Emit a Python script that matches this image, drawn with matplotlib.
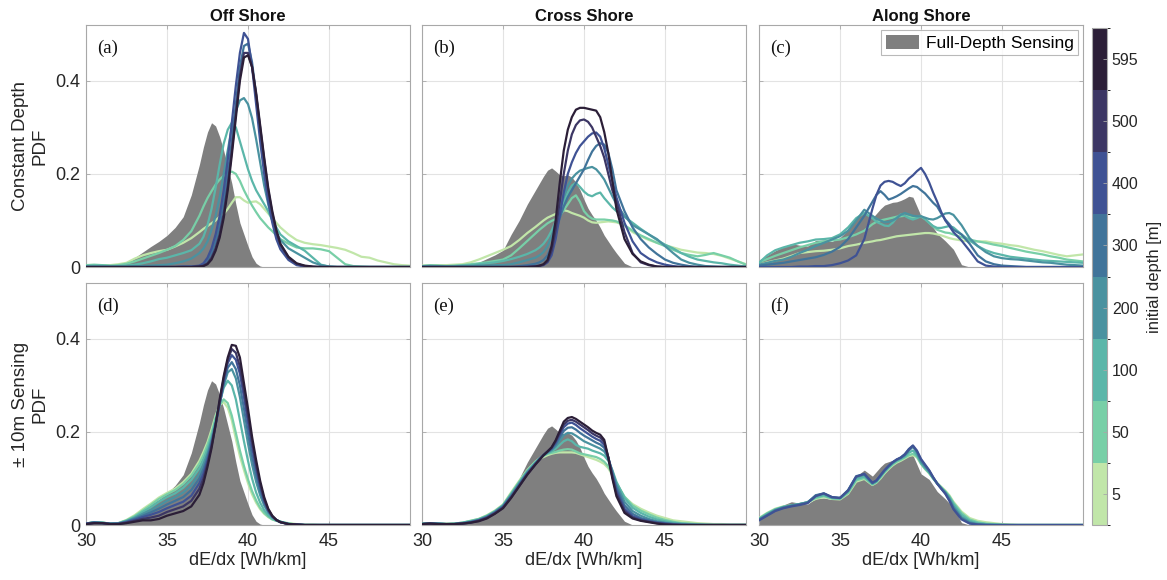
import numpy as np
import matplotlib
matplotlib.use('Agg')
import matplotlib.pyplot as plt
from matplotlib.colors import ListedColormap, BoundaryNorm
from matplotlib.patches import Patch
import matplotlib.cm as cm

plt.rcParams['font.family'] = ['Liberation Sans', 'DejaVu Sans']

# x grid (dE/dx, Wh/km)
X = [30, 30.5, 31, 31.5, 32, 32.5, 33, 33.5, 34, 34.5, 35, 35.5, 36, 36.5, 37,
     37.25, 37.5, 37.75, 38, 38.25, 38.5, 38.75, 39, 39.25, 39.5, 39.75, 40, 40.25, 40.5, 40.75, 41, 41.25, 41.5, 41.75, 42,
     42.5, 43, 43.5, 44, 44.5, 45, 45.5, 46, 46.5, 47, 47.5, 48, 48.5, 49, 49.5, 50]

DEPTHS = [5, 50, 100, 200, 300, 400, 500, 595]
TITLES = ['Off Shore', 'Cross Shore', 'Along Shore']
ROW_LABELS = ['Constant Depth\nPDF', '\u00b1 10m Sensing\nPDF']
PANEL_TAGS = ['(a)', '(b)', '(c)', '(d)', '(e)', '(f)']

# full-depth sensing PDFs (grey fill)
gray_off = [0.003, 0.005, 0.004, 0.003, 0.003, 0.008, 0.02, 0.032, 0.044, 0.055, 0.068, 0.085, 0.108, 0.155, 0.22,
            0.258, 0.29, 0.31, 0.303, 0.28, 0.25, 0.215, 0.18, 0.135, 0.095, 0.07, 0.045, 0.022, 0.008, 0.002, 0, 0, 0, 0, 0,
            0, 0, 0, 0, 0, 0, 0, 0, 0, 0, 0, 0, 0, 0, 0, 0]
gray_cross = [0.002, 0.003, 0.003, 0.002, 0.003, 0.004, 0.007, 0.01, 0.018, 0.026, 0.036, 0.07, 0.1, 0.135, 0.165,
              0.18, 0.195, 0.208, 0.213, 0.206, 0.198, 0.196, 0.198, 0.193, 0.182, 0.166, 0.145, 0.126, 0.112, 0.1, 0.085, 0.068, 0.055, 0.042, 0.03,
              0.008, 0, 0, 0, 0, 0, 0, 0, 0, 0, 0, 0, 0, 0, 0, 0]
gray_along = [0.015, 0.025, 0.035, 0.043, 0.05, 0.047, 0.045, 0.057, 0.058, 0.055, 0.063, 0.08, 0.105, 0.118, 0.105,
              0.115, 0.125, 0.133, 0.136, 0.139, 0.14, 0.143, 0.147, 0.152, 0.15, 0.13, 0.11, 0.104, 0.098, 0.085, 0.072, 0.064, 0.056, 0.047, 0.038,
              0.005, 0, 0, 0, 0, 0, 0, 0, 0, 0, 0, 0, 0, 0, 0, 0]

# (a) off shore, constant depth: depths 5..595
a_curves = [
    [0.003, 0.004, 0.004, 0.004, 0.006, 0.009, 0.018, 0.025, 0.03, 0.034, 0.037, 0.044, 0.052, 0.062, 0.075,
     0.082, 0.088, 0.094, 0.1, 0.108, 0.114, 0.125, 0.138, 0.15, 0.15, 0.143, 0.138, 0.14, 0.141, 0.135, 0.125, 0.115, 0.105, 0.095, 0.085,
     0.07, 0.058, 0.052, 0.049, 0.047, 0.044, 0.041, 0.037, 0.03, 0.022, 0.02, 0.014, 0.01, 0.006, 0.004, 0.003],
    [0.004, 0.005, 0.004, 0.003, 0.004, 0.007, 0.012, 0.018, 0.024, 0.03, 0.037, 0.045, 0.058, 0.077, 0.11,
     0.13, 0.148, 0.163, 0.177, 0.188, 0.196, 0.202, 0.205, 0.2, 0.185, 0.165, 0.148, 0.132, 0.118, 0.105, 0.095, 0.085, 0.077, 0.068, 0.06,
     0.05, 0.042, 0.04, 0.04, 0.038, 0.034, 0.02, 0.006, 0.002, 0.001, 0, 0, 0, 0, 0, 0],
    [0.002, 0.003, 0.003, 0.002, 0.002, 0.003, 0.005, 0.008, 0.012, 0.017, 0.02, 0.025, 0.03, 0.036, 0.05,
     0.065, 0.09, 0.125, 0.17, 0.22, 0.265, 0.295, 0.31, 0.3, 0.27, 0.24, 0.21, 0.185, 0.165, 0.15, 0.135, 0.12, 0.1, 0.085, 0.07,
     0.055, 0.045, 0.035, 0.02, 0.005, 0.001, 0, 0, 0, 0, 0, 0, 0, 0, 0, 0],
    [0.001, 0.001, 0.001, 0.001, 0.001, 0.001, 0.002, 0.002, 0.003, 0.004, 0.005, 0.008, 0.012, 0.018, 0.03,
     0.04, 0.055, 0.08, 0.11, 0.15, 0.2, 0.25, 0.3, 0.335, 0.358, 0.363, 0.35, 0.32, 0.275, 0.225, 0.175, 0.135, 0.1, 0.075, 0.058,
     0.04, 0.03, 0.02, 0.01, 0.004, 0.001, 0, 0, 0, 0, 0, 0, 0, 0, 0, 0],
    [0, 0, 0, 0, 0, 0, 0, 0, 0, 0, 0, 0, 0.001, 0.001, 0.002,
     0.006, 0.015, 0.03, 0.055, 0.09, 0.14, 0.2, 0.27, 0.35, 0.43, 0.475, 0.48, 0.44, 0.37, 0.29, 0.215, 0.155, 0.105, 0.07, 0.045,
     0.02, 0.006, 0.002, 0, 0, 0, 0, 0, 0, 0, 0, 0, 0, 0, 0, 0],
    [0, 0, 0, 0, 0, 0, 0, 0, 0, 0, 0, 0, 0.001, 0.001, 0.003,
     0.008, 0.02, 0.04, 0.07, 0.11, 0.165, 0.23, 0.31, 0.39, 0.46, 0.503, 0.49, 0.43, 0.35, 0.27, 0.2, 0.14, 0.095, 0.06, 0.038,
     0.015, 0.004, 0.001, 0, 0, 0, 0, 0, 0, 0, 0, 0, 0, 0, 0, 0],
    [0, 0, 0, 0, 0, 0, 0, 0, 0, 0, 0, 0, 0, 0, 0.001,
     0.003, 0.008, 0.02, 0.04, 0.07, 0.115, 0.175, 0.25, 0.33, 0.41, 0.46, 0.46, 0.43, 0.37, 0.3, 0.23, 0.165, 0.115, 0.075, 0.048,
     0.02, 0.007, 0.002, 0, 0, 0, 0, 0, 0, 0, 0, 0, 0, 0, 0, 0],
    [0, 0, 0, 0, 0, 0, 0, 0, 0, 0, 0, 0, 0, 0, 0.001,
     0.002, 0.006, 0.016, 0.035, 0.063, 0.105, 0.165, 0.24, 0.32, 0.4, 0.45, 0.455, 0.43, 0.375, 0.305, 0.235, 0.17, 0.12, 0.08, 0.05,
     0.022, 0.008, 0.003, 0.001, 0, 0, 0, 0, 0, 0, 0, 0, 0, 0, 0, 0],
]

# (b) cross shore, constant depth
b_curves = [
    [0.003, 0.004, 0.004, 0.004, 0.005, 0.006, 0.01, 0.016, 0.023, 0.03, 0.037, 0.045, 0.058, 0.073, 0.086,
     0.093, 0.1, 0.106, 0.11, 0.114, 0.118, 0.122, 0.12, 0.116, 0.113, 0.11, 0.106, 0.1, 0.096, 0.095, 0.096, 0.097, 0.098, 0.097, 0.096,
     0.09, 0.075, 0.066, 0.058, 0.052, 0.047, 0.042, 0.037, 0.034, 0.031, 0.03, 0.028, 0.024, 0.018, 0.012, 0.006],
    [0.002, 0.003, 0.003, 0.002, 0.003, 0.004, 0.006, 0.008, 0.01, 0.013, 0.016, 0.025, 0.04, 0.056, 0.072,
     0.08, 0.087, 0.094, 0.099, 0.103, 0.11, 0.122, 0.135, 0.148, 0.154, 0.14, 0.12, 0.11, 0.104, 0.102, 0.102, 0.102, 0.101, 0.1, 0.098,
     0.09, 0.078, 0.068, 0.06, 0.052, 0.045, 0.037, 0.03, 0.026, 0.023, 0.026, 0.03, 0.025, 0.02, 0.012, 0.005],
    [0.002, 0.003, 0.002, 0.002, 0.002, 0.003, 0.004, 0.006, 0.008, 0.01, 0.013, 0.017, 0.022, 0.028, 0.036,
     0.042, 0.05, 0.062, 0.078, 0.097, 0.118, 0.14, 0.16, 0.175, 0.181, 0.172, 0.162, 0.155, 0.152, 0.157, 0.16, 0.148, 0.138, 0.128, 0.12,
     0.108, 0.095, 0.082, 0.07, 0.058, 0.048, 0.04, 0.03, 0.022, 0.016, 0.013, 0.01, 0.008, 0.005, 0.003, 0.001],
    [0.001, 0.002, 0.002, 0.001, 0.001, 0.002, 0.002, 0.003, 0.003, 0.004, 0.004, 0.006, 0.01, 0.015, 0.02,
     0.025, 0.032, 0.045, 0.065, 0.095, 0.125, 0.15, 0.175, 0.19, 0.2, 0.207, 0.21, 0.213, 0.215, 0.21, 0.2, 0.188, 0.17, 0.152, 0.135,
     0.11, 0.09, 0.08, 0.07, 0.06, 0.045, 0.03, 0.016, 0.009, 0.005, 0.002, 0.001, 0, 0, 0, 0],
    [0, 0, 0, 0, 0, 0, 0, 0, 0, 0, 0, 0, 0.002, 0.004, 0.007,
     0.01, 0.015, 0.025, 0.045, 0.075, 0.105, 0.13, 0.15, 0.165, 0.18, 0.195, 0.21, 0.23, 0.248, 0.26, 0.266, 0.263, 0.245, 0.21, 0.165,
     0.12, 0.085, 0.06, 0.042, 0.028, 0.016, 0.009, 0.005, 0.002, 0, 0, 0, 0, 0, 0, 0],
    [0, 0, 0, 0, 0, 0, 0, 0, 0, 0, 0, 0, 0, 0.001, 0.002,
     0.003, 0.004, 0.01, 0.025, 0.06, 0.11, 0.16, 0.2, 0.225, 0.245, 0.26, 0.27, 0.28, 0.287, 0.289, 0.28, 0.255, 0.22, 0.185, 0.15,
     0.095, 0.055, 0.03, 0.018, 0.01, 0.005, 0.002, 0, 0, 0, 0, 0, 0, 0, 0, 0],
    [0, 0, 0, 0, 0, 0, 0, 0, 0, 0, 0, 0, 0, 0, 0.001,
     0.002, 0.005, 0.012, 0.035, 0.08, 0.14, 0.2, 0.25, 0.285, 0.305, 0.315, 0.317, 0.312, 0.3, 0.28, 0.26, 0.235, 0.2, 0.165, 0.14,
     0.075, 0.03, 0.01, 0.004, 0.001, 0, 0, 0, 0, 0, 0, 0, 0, 0, 0, 0],
    [0, 0, 0, 0, 0, 0, 0, 0, 0, 0, 0, 0, 0, 0, 0.001,
     0.003, 0.006, 0.015, 0.045, 0.1, 0.18, 0.25, 0.295, 0.322, 0.338, 0.342, 0.342, 0.34, 0.338, 0.336, 0.322, 0.29, 0.245, 0.185, 0.125,
     0.06, 0.028, 0.012, 0.005, 0.001, 0, 0, 0, 0, 0, 0, 0, 0, 0, 0, 0],
]

# (c) along shore, constant depth (depths 5..400)
c_curves = [
    [0.005, 0.01, 0.014, 0.018, 0.024, 0.03, 0.032, 0.034, 0.035, 0.037, 0.04, 0.045, 0.048, 0.052, 0.055,
     0.057, 0.058, 0.06, 0.062, 0.064, 0.066, 0.067, 0.068, 0.069, 0.07, 0.071, 0.072, 0.073, 0.073, 0.072, 0.07, 0.068, 0.065, 0.062, 0.06,
     0.057, 0.055, 0.055, 0.055, 0.052, 0.05, 0.047, 0.045, 0.041, 0.037, 0.034, 0.03, 0.026, 0.023, 0.025, 0.027],
    [0.01, 0.017, 0.024, 0.03, 0.036, 0.042, 0.047, 0.052, 0.055, 0.057, 0.059, 0.064, 0.07, 0.078, 0.092,
     0.097, 0.1, 0.102, 0.104, 0.106, 0.108, 0.109, 0.11, 0.108, 0.106, 0.107, 0.109, 0.103, 0.095, 0.087, 0.08, 0.077, 0.074, 0.073, 0.07,
     0.064, 0.059, 0.055, 0.052, 0.048, 0.045, 0.041, 0.037, 0.033, 0.03, 0.027, 0.023, 0.02, 0.016, 0.014, 0.012],
    [0.009, 0.025, 0.036, 0.042, 0.047, 0.052, 0.055, 0.059, 0.06, 0.062, 0.07, 0.085, 0.105, 0.116, 0.105,
     0.097, 0.093, 0.089, 0.088, 0.095, 0.106, 0.113, 0.11, 0.105, 0.102, 0.105, 0.109, 0.103, 0.095, 0.088, 0.084, 0.084, 0.086, 0.088, 0.085,
     0.07, 0.057, 0.045, 0.036, 0.03, 0.026, 0.022, 0.02, 0.018, 0.016, 0.014, 0.013, 0.012, 0.011, 0.01, 0.009],
    [0.005, 0.009, 0.013, 0.016, 0.022, 0.03, 0.037, 0.045, 0.052, 0.059, 0.066, 0.078, 0.1, 0.123, 0.11,
     0.104, 0.1, 0.096, 0.097, 0.1, 0.105, 0.112, 0.116, 0.113, 0.11, 0.109, 0.109, 0.106, 0.103, 0.102, 0.105, 0.11, 0.115, 0.116, 0.112,
     0.09, 0.062, 0.045, 0.032, 0.023, 0.019, 0.017, 0.016, 0.014, 0.012, 0.01, 0.009, 0.007, 0.005, 0.004, 0.003],
    [0.003, 0.005, 0.007, 0.009, 0.012, 0.015, 0.018, 0.021, 0.026, 0.033, 0.043, 0.06, 0.085, 0.11, 0.14,
     0.155, 0.163, 0.155, 0.145, 0.148, 0.152, 0.157, 0.163, 0.169, 0.174, 0.172, 0.165, 0.158, 0.148, 0.138, 0.13, 0.115, 0.102, 0.092, 0.08,
     0.07, 0.05, 0.025, 0.012, 0.006, 0.003, 0.002, 0.001, 0, 0, 0, 0, 0, 0, 0, 0],
    [0, 0, 0, 0, 0, 0.001, 0.001, 0.002, 0.002, 0.004, 0.008, 0.014, 0.025, 0.06, 0.125,
     0.155, 0.175, 0.183, 0.185, 0.183, 0.178, 0.174, 0.18, 0.19, 0.197, 0.206, 0.213, 0.2, 0.182, 0.16, 0.14, 0.118, 0.1, 0.088, 0.075,
     0.057, 0.035, 0.012, 0.003, 0.001, 0, 0, 0, 0, 0, 0, 0, 0, 0, 0, 0],
]

# (d) off shore, +-10 m sensing
d_curves = [
    [0.003, 0.006, 0.005, 0.003, 0.004, 0.011, 0.021, 0.034, 0.046, 0.059, 0.069, 0.078, 0.092, 0.11, 0.138,
     0.157, 0.178, 0.205, 0.235, 0.258, 0.264, 0.252, 0.225, 0.185, 0.148, 0.118, 0.09, 0.066, 0.048, 0.034, 0.024, 0.017, 0.012, 0.009, 0.007,
     0.004, 0.002, 0.001, 0.001, 0, 0, 0, 0, 0, 0, 0, 0, 0, 0, 0, 0],
    [0.003, 0.006, 0.005, 0.003, 0.004, 0.01, 0.019, 0.031, 0.043, 0.056, 0.066, 0.075, 0.088, 0.106, 0.132,
     0.15, 0.172, 0.198, 0.23, 0.258, 0.27, 0.262, 0.235, 0.198, 0.16, 0.127, 0.098, 0.073, 0.053, 0.037, 0.026, 0.018, 0.012, 0.009, 0.007,
     0.003, 0.001, 0, 0, 0, 0, 0, 0, 0, 0, 0, 0, 0, 0, 0, 0],
    [0.003, 0.006, 0.005, 0.003, 0.004, 0.009, 0.017, 0.028, 0.038, 0.05, 0.06, 0.068, 0.08, 0.097, 0.122,
     0.14, 0.163, 0.19, 0.225, 0.262, 0.295, 0.31, 0.3, 0.27, 0.225, 0.18, 0.138, 0.1, 0.07, 0.048, 0.032, 0.021, 0.014, 0.01, 0.007,
     0.003, 0.001, 0, 0, 0, 0, 0, 0, 0, 0, 0, 0, 0, 0, 0, 0],
    [0.003, 0.006, 0.005, 0.003, 0.003, 0.008, 0.015, 0.024, 0.032, 0.042, 0.052, 0.06, 0.07, 0.085, 0.11,
     0.13, 0.153, 0.183, 0.22, 0.26, 0.3, 0.328, 0.335, 0.315, 0.275, 0.225, 0.175, 0.13, 0.093, 0.064, 0.042, 0.027, 0.017, 0.011, 0.007,
     0.002, 0.001, 0, 0, 0, 0, 0, 0, 0, 0, 0, 0, 0, 0, 0, 0],
    [0.003, 0.005, 0.004, 0.003, 0.003, 0.007, 0.013, 0.02, 0.027, 0.035, 0.044, 0.052, 0.06, 0.075, 0.1,
     0.12, 0.145, 0.178, 0.217, 0.26, 0.305, 0.338, 0.35, 0.335, 0.3, 0.25, 0.197, 0.148, 0.107, 0.074, 0.048, 0.03, 0.018, 0.011, 0.006,
     0.002, 0.001, 0, 0, 0, 0, 0, 0, 0, 0, 0, 0, 0, 0, 0, 0],
    [0.003, 0.005, 0.004, 0.002, 0.003, 0.006, 0.011, 0.017, 0.022, 0.028, 0.036, 0.043, 0.05, 0.063, 0.09,
     0.11, 0.138, 0.172, 0.215, 0.262, 0.31, 0.348, 0.365, 0.355, 0.325, 0.275, 0.22, 0.168, 0.122, 0.083, 0.052, 0.031, 0.018, 0.01, 0.006,
     0.002, 0.001, 0, 0, 0, 0, 0, 0, 0, 0, 0, 0, 0, 0, 0, 0],
    [0.002, 0.004, 0.004, 0.002, 0.002, 0.005, 0.009, 0.013, 0.016, 0.02, 0.028, 0.034, 0.04, 0.052, 0.078,
     0.1, 0.132, 0.17, 0.215, 0.265, 0.315, 0.355, 0.378, 0.37, 0.34, 0.29, 0.235, 0.18, 0.13, 0.088, 0.055, 0.033, 0.019, 0.011, 0.006,
     0.002, 0.001, 0, 0, 0, 0, 0, 0, 0, 0, 0, 0, 0, 0, 0, 0],
    [0.002, 0.004, 0.004, 0.002, 0.002, 0.004, 0.007, 0.01, 0.01, 0.013, 0.02, 0.025, 0.03, 0.04, 0.065,
     0.09, 0.125, 0.165, 0.215, 0.27, 0.32, 0.36, 0.387, 0.385, 0.36, 0.305, 0.25, 0.19, 0.14, 0.095, 0.06, 0.035, 0.02, 0.011, 0.006,
     0.002, 0.001, 0, 0, 0, 0, 0, 0, 0, 0, 0, 0, 0, 0, 0, 0],
]

# (e) cross shore, +-10 m sensing
e_curves = [
    [0.003, 0.004, 0.003, 0.003, 0.003, 0.005, 0.009, 0.013, 0.021, 0.031, 0.044, 0.07, 0.095, 0.118, 0.136,
     0.142, 0.146, 0.15, 0.153, 0.155, 0.156, 0.156, 0.156, 0.156, 0.155, 0.152, 0.149, 0.146, 0.143, 0.14, 0.136, 0.131, 0.122, 0.107, 0.09,
     0.06, 0.045, 0.035, 0.027, 0.02, 0.015, 0.01, 0.008, 0.006, 0.004, 0.003, 0.002, 0.002, 0.001, 0.001, 0.001],
    [0.003, 0.004, 0.003, 0.002, 0.003, 0.005, 0.009, 0.013, 0.02, 0.03, 0.043, 0.068, 0.093, 0.117, 0.136,
     0.143, 0.149, 0.153, 0.155, 0.157, 0.16, 0.162, 0.163, 0.162, 0.158, 0.154, 0.152, 0.15, 0.148, 0.146, 0.142, 0.136, 0.126, 0.11, 0.09,
     0.061, 0.042, 0.031, 0.023, 0.016, 0.011, 0.007, 0.004, 0.003, 0.002, 0.001, 0, 0, 0, 0, 0],
    [0.003, 0.004, 0.003, 0.002, 0.003, 0.005, 0.008, 0.012, 0.019, 0.029, 0.042, 0.066, 0.091, 0.115, 0.134,
     0.142, 0.149, 0.154, 0.158, 0.164, 0.172, 0.18, 0.184, 0.18, 0.172, 0.168, 0.166, 0.164, 0.16, 0.157, 0.154, 0.149, 0.138, 0.118, 0.093,
     0.058, 0.037, 0.026, 0.018, 0.012, 0.008, 0.005, 0.003, 0.002, 0.001, 0, 0, 0, 0, 0, 0],
    [0.002, 0.003, 0.003, 0.002, 0.002, 0.004, 0.007, 0.011, 0.018, 0.028, 0.041, 0.064, 0.089, 0.113, 0.133,
     0.142, 0.15, 0.156, 0.161, 0.169, 0.181, 0.193, 0.198, 0.197, 0.192, 0.186, 0.18, 0.176, 0.172, 0.168, 0.164, 0.158, 0.143, 0.116, 0.087,
     0.05, 0.03, 0.02, 0.013, 0.008, 0.005, 0.003, 0.002, 0.001, 0, 0, 0, 0, 0, 0, 0],
    [0.002, 0.003, 0.003, 0.002, 0.002, 0.004, 0.006, 0.01, 0.017, 0.027, 0.04, 0.062, 0.087, 0.112, 0.132,
     0.142, 0.15, 0.157, 0.163, 0.173, 0.188, 0.202, 0.209, 0.21, 0.205, 0.198, 0.192, 0.187, 0.182, 0.177, 0.173, 0.166, 0.145, 0.112, 0.08,
     0.042, 0.024, 0.015, 0.01, 0.006, 0.004, 0.002, 0.001, 0, 0, 0, 0, 0, 0, 0, 0],
    [0.002, 0.003, 0.002, 0.002, 0.002, 0.003, 0.006, 0.01, 0.016, 0.026, 0.038, 0.06, 0.085, 0.11, 0.131,
     0.141, 0.15, 0.158, 0.165, 0.177, 0.194, 0.21, 0.218, 0.22, 0.215, 0.208, 0.202, 0.196, 0.19, 0.185, 0.181, 0.172, 0.145, 0.108, 0.074,
     0.035, 0.019, 0.012, 0.008, 0.005, 0.003, 0.001, 0, 0, 0, 0, 0, 0, 0, 0, 0],
    [0.002, 0.003, 0.002, 0.002, 0.002, 0.003, 0.005, 0.009, 0.015, 0.025, 0.037, 0.059, 0.084, 0.109, 0.13,
     0.14, 0.15, 0.158, 0.166, 0.18, 0.198, 0.216, 0.224, 0.226, 0.222, 0.216, 0.21, 0.204, 0.197, 0.192, 0.188, 0.178, 0.145, 0.104, 0.068,
     0.03, 0.016, 0.01, 0.007, 0.004, 0.002, 0.001, 0, 0, 0, 0, 0, 0, 0, 0, 0],
    [0.002, 0.003, 0.002, 0.002, 0.002, 0.003, 0.005, 0.008, 0.014, 0.024, 0.036, 0.058, 0.083, 0.108, 0.13,
     0.14, 0.15, 0.158, 0.167, 0.182, 0.202, 0.222, 0.23, 0.232, 0.228, 0.222, 0.216, 0.21, 0.203, 0.198, 0.194, 0.183, 0.145, 0.1, 0.062,
     0.026, 0.014, 0.009, 0.006, 0.003, 0.001, 0, 0, 0, 0, 0, 0, 0, 0, 0, 0],
]

# (f) along shore, +-10 m sensing (depths 5..400)
f_curves = [
    [0.015, 0.026, 0.035, 0.04, 0.042, 0.045, 0.048, 0.056, 0.06, 0.056, 0.055, 0.067, 0.093, 0.099, 0.086,
     0.091, 0.1, 0.111, 0.12, 0.128, 0.134, 0.138, 0.143, 0.148, 0.15, 0.145, 0.131, 0.12, 0.111, 0.1, 0.09, 0.082, 0.074, 0.064, 0.05,
     0.029, 0.015, 0.009, 0.006, 0.004, 0.002, 0.001, 0, 0, 0, 0, 0, 0, 0, 0, 0],
    [0.014, 0.025, 0.034, 0.039, 0.042, 0.045, 0.049, 0.058, 0.062, 0.057, 0.056, 0.069, 0.096, 0.101, 0.087,
     0.092, 0.102, 0.113, 0.122, 0.13, 0.136, 0.14, 0.145, 0.15, 0.153, 0.147, 0.132, 0.121, 0.112, 0.1, 0.09, 0.081, 0.072, 0.062, 0.048,
     0.026, 0.012, 0.006, 0.003, 0.002, 0.001, 0, 0, 0, 0, 0, 0, 0, 0, 0, 0],
    [0.013, 0.024, 0.033, 0.039, 0.042, 0.045, 0.049, 0.06, 0.064, 0.058, 0.057, 0.071, 0.099, 0.104, 0.088,
     0.093, 0.104, 0.115, 0.124, 0.132, 0.138, 0.142, 0.147, 0.155, 0.16, 0.15, 0.133, 0.122, 0.113, 0.1, 0.089, 0.08, 0.071, 0.06, 0.045,
     0.022, 0.009, 0.004, 0.002, 0.001, 0, 0, 0, 0, 0, 0, 0, 0, 0, 0, 0],
    [0.012, 0.022, 0.032, 0.038, 0.042, 0.045, 0.049, 0.063, 0.067, 0.059, 0.058, 0.074, 0.103, 0.108, 0.09,
     0.095, 0.106, 0.117, 0.126, 0.134, 0.14, 0.145, 0.152, 0.163, 0.17, 0.155, 0.136, 0.125, 0.115, 0.101, 0.089, 0.079, 0.07, 0.057, 0.04,
     0.017, 0.006, 0.002, 0.001, 0, 0, 0, 0, 0, 0, 0, 0, 0, 0, 0, 0],
    [0.011, 0.021, 0.031, 0.037, 0.041, 0.044, 0.048, 0.064, 0.068, 0.06, 0.058, 0.075, 0.105, 0.109, 0.09,
     0.095, 0.106, 0.117, 0.126, 0.134, 0.14, 0.144, 0.15, 0.16, 0.168, 0.158, 0.14, 0.128, 0.117, 0.102, 0.089, 0.078, 0.068, 0.054, 0.036,
     0.014, 0.004, 0.001, 0, 0, 0, 0, 0, 0, 0, 0, 0, 0, 0, 0, 0],
    [0.01, 0.02, 0.03, 0.036, 0.04, 0.043, 0.047, 0.062, 0.068, 0.06, 0.058, 0.074, 0.104, 0.11, 0.091,
     0.096, 0.107, 0.118, 0.127, 0.135, 0.141, 0.145, 0.152, 0.163, 0.171, 0.16, 0.142, 0.13, 0.118, 0.103, 0.089, 0.078, 0.067, 0.052, 0.034,
     0.012, 0.003, 0.001, 0, 0, 0, 0, 0, 0, 0, 0, 0, 0, 0, 0, 0],
]

COLORS = ['#c1e6a9', '#78cfa7', '#5bb6a9', '#4a92a0', '#41749a', '#3f5294', '#3c3664', '#2b1e37']
GRAY = '#7f7f7f'

panels = [
    (gray_off, a_curves), (gray_cross, b_curves), (gray_along, c_curves),
    (gray_off, d_curves), (gray_cross, e_curves), (gray_along, f_curves),
]
for g, curves in panels:
    assert len(g) == len(X)
    for c in curves:
        assert len(c) == len(X), len(c)

fig = plt.figure(figsize=(11.67, 5.8), dpi=100)
W, H = 1167.0, 580.0
lefts = [86, 422, 759]
tops = [25, 283]
aw, ah = 324, 242

axes = []
for r in range(2):
    for c in range(3):
        ax = fig.add_axes([lefts[c] / W, 1 - (tops[r] + ah) / H, aw / W, ah / H])
        axes.append(ax)

for k, ax in enumerate(axes):
    g, curves = panels[k]
    ax.fill_between(X, 0, g, color=GRAY, lw=0, zorder=2)
    for i, y in enumerate(curves):
        ax.plot(X, y, color=COLORS[i], lw=1.6, zorder=3)
    ax.set_xlim(30, 50)
    ax.set_ylim(0, 0.52)
    ax.set_xticks([30, 35, 40, 45])
    ax.set_yticks([0, 0.2, 0.4])
    ax.grid(True, color='#e3e3e3', lw=0.8, zorder=0)
    ax.set_axisbelow(True)
    for s in ax.spines.values():
        s.set_color('#a8a8a8')
        s.set_linewidth(0.8)
    ax.tick_params(direction='in', length=3, width=0.6, color='#a8a8a8',
                   top=True, right=True, labelsize=13, labelcolor='#262626')
    ax.tick_params(axis='x', pad=6)
    ax.tick_params(axis='y', pad=4)
    r, c = divmod(k, 3)
    if r == 0:
        ax.tick_params(labelbottom=False)
        ax.set_title(TITLES[c], fontsize=12, fontweight='bold', pad=3, color='#111111')
    else:
        ax.set_xlabel('dE/dx [Wh/km]', fontsize=13, color='#262626', labelpad=1)
    if c == 0:
        ax.set_yticklabels(['0', '0.2', '0.4'])
        ax.set_ylabel(ROW_LABELS[r], fontsize=13.5, color='#262626', labelpad=5)
    else:
        ax.tick_params(labelleft=False)
    ax.text(0.035, 0.905, PANEL_TAGS[k], transform=ax.transAxes, fontsize=13.5,
            family='Liberation Serif', va='center', ha='left', color='#111111')

leg = axes[2].legend(handles=[Patch(facecolor=GRAY, edgecolor='none')], labels=['Full-Depth Sensing'],
                     loc='upper right', fontsize=12.5, frameon=True, fancybox=False,
                     borderaxespad=0.3, handlelength=1.9, handleheight=0.9, handletextpad=0.4,
                     borderpad=0.25)
leg.get_frame().set_edgecolor('#a8a8a8')
leg.get_frame().set_linewidth(0.8)

# discrete colorbar
cmap = ListedColormap(COLORS)
norm = BoundaryNorm(np.arange(len(DEPTHS) + 1), cmap.N)
cax = fig.add_axes([1092 / W, 1 - 525 / H, 15 / W, 497 / H])
cb = fig.colorbar(cm.ScalarMappable(norm=norm, cmap=cmap), cax=cax,
                  ticks=np.arange(len(DEPTHS)) + 0.5)
cb.ax.set_yticklabels([str(d) for d in DEPTHS])
cb.ax.tick_params(labelsize=11.5, length=3, width=0.6, color='#a8a8a8', labelcolor='#262626', direction='in')
cb.outline.set_edgecolor('#a8a8a8')
cb.outline.set_linewidth(0.8)
cb.set_label('initial depth [m]', fontsize=12, color='#262626', labelpad=6)

fig.savefig('out.png', dpi=100)
